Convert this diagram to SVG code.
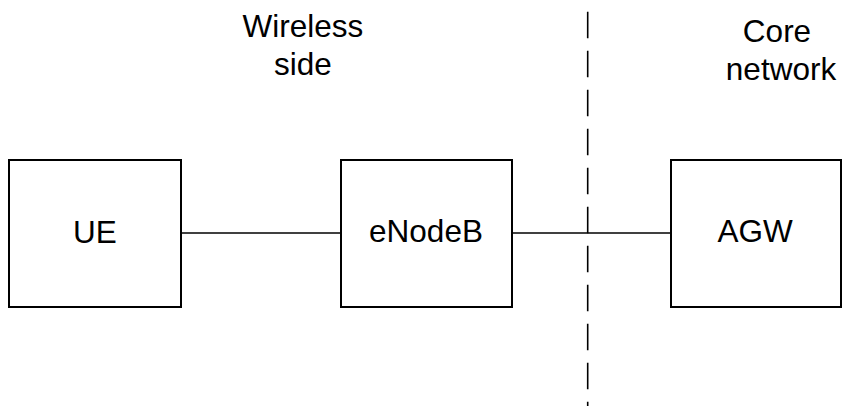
<svg xmlns="http://www.w3.org/2000/svg" width="843" height="406" viewBox="0 0 843 406">
<style>
.box{fill:#fff;stroke:#000;stroke-width:2}
.lbl{font-family:"Liberation Sans",Arial,sans-serif;font-size:31.5px;fill:#000;text-anchor:middle}
.conn{stroke:#000;stroke-width:1.6;fill:none}
</style>
<rect width="843" height="406" fill="#fff"/>
<g id="connectors">
<line class="conn" x1="181" y1="233" x2="341" y2="233"/>
<line class="conn" x1="512" y1="233" x2="671" y2="233"/>
<line class="conn" x1="587.7" y1="11.7" x2="587.7" y2="406" stroke-dasharray="26.6 12.4" stroke-width="2"/>
</g>
<g id="wireless-label"><text class="lbl" x="303" y="37">Wireless</text><text class="lbl" x="303" y="75">side</text></g>
<g id="core-label"><text class="lbl" x="777" y="42">Core</text><text class="lbl" x="781" y="80">network</text></g>
<g id="UE"><rect class="box" x="9" y="160" width="172" height="147"/><text class="lbl" x="95" y="243">UE</text></g>
<g id="eNodeB"><rect class="box" x="341" y="160" width="171" height="147"/><text class="lbl" x="426" y="242">eNodeB</text></g>
<g id="AGW"><rect class="box" x="671" y="160" width="170" height="147"/><text class="lbl" x="755" y="242">AGW</text></g>
</svg>
